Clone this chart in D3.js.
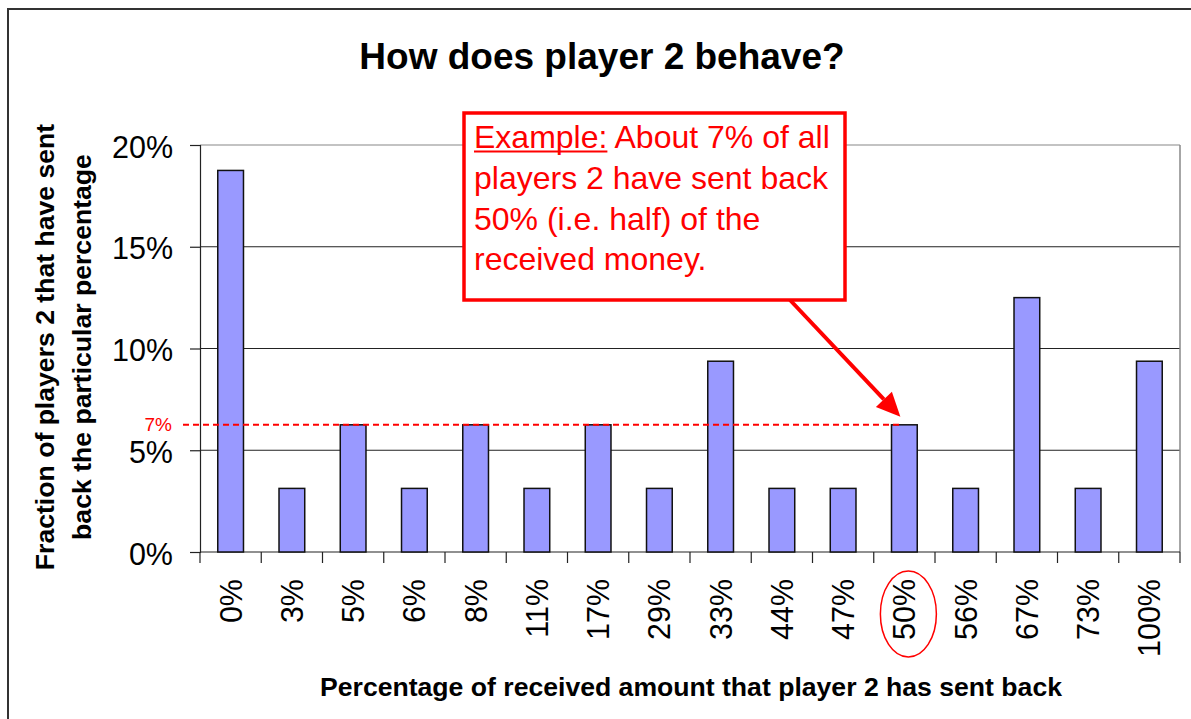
<!DOCTYPE html>
<html><head><meta charset="utf-8">
<script src="https://cdn.jsdelivr.net/npm/d3@7"></script>
<style>body{margin:0;background:#fff} svg{display:block} text{font-family:"Liberation Sans",Arial,Helvetica,sans-serif}</style>
</head><body><svg id="c" width="1191" height="719"></svg>
<script>
const categories = ["0%","3%","5%","6%","8%","11%","17%","29%","33%","44%","47%","50%","56%","67%","73%","100%"];
const fractions = [0.1875,0.03125,0.0625,0.03125,0.0625,0.03125,0.0625,0.03125,0.09375,0.03125,0.03125,0.0625,0.03125,0.125,0.03125,0.09375];
const yTicks = [0,0.05,0.10,0.15,0.20];
const highlightCategory = "50%";
const highlightLabel = "7%";
const titleText = "How does player 2 behave?";
const xTitleText = "Percentage of received amount that player 2 has sent back";
const yTitleLines = ["Fraction of players 2 that have sent","back the particular percentage"];
const noteLead = "Example:";
const noteLines = [" About 7% of all","players 2 have sent back","50% (i.e. half) of the","received money."];

const svg = d3.select("#c");
const W = 1191, H = 719;
const plot = {left:200, right:1180, top:145, bottom:552};

// outer frame
svg.append("path").attr("d",`M8,${H} L8,9 L${W},9`).attr("fill","none").attr("stroke","#333").attr("stroke-width",2);

const x = d3.scaleBand().domain(categories).range([plot.left, plot.right]).padding(0);
const y = d3.scaleLinear().domain([0,0.2]).range([plot.bottom, plot.top]);
const barW = x.bandwidth()*0.42;

// gridlines
svg.append("g").selectAll("line").data(yTicks.filter(d=>d>0)).join("line")
  .attr("x1",plot.left).attr("x2",plot.right)
  .attr("y1",d=>y(d)).attr("y2",d=>y(d))
  .attr("stroke",d=>d===0.2?"#888":"#222").attr("stroke-width",1.2);
// right border of plot
svg.append("line").attr("x1",plot.right).attr("x2",plot.right).attr("y1",plot.top).attr("y2",plot.bottom)
  .attr("stroke","#888").attr("stroke-width",1.5);

// y axis
const yAxis = svg.append("g").attr("transform",`translate(${plot.left},0)`)
  .call(d3.axisLeft(y).tickValues(yTicks).tickFormat(d3.format(".0%")).tickSize(10).tickPadding(17));
yAxis.select(".domain").attr("stroke","#222").attr("stroke-width",1.2);
yAxis.selectAll(".tick line").attr("stroke","#222").attr("stroke-width",1.2);
yAxis.selectAll(".tick text").attr("font-size",30.5).attr("fill","#000").attr("dy","0.4em")
  .style("font-family",'"Liberation Sans",Arial,sans-serif');

// x axis (ticks at category boundaries)
const boundaries = categories.map(c=>x(c)).concat([plot.right]);
svg.append("line").attr("x1",plot.left).attr("x2",plot.right).attr("y1",plot.bottom).attr("y2",plot.bottom)
  .attr("stroke","#222").attr("stroke-width",1.2);
svg.append("g").selectAll("line").data(boundaries).join("line")
  .attr("x1",d=>d).attr("x2",d=>d).attr("y1",plot.bottom).attr("y2",plot.bottom+11)
  .attr("stroke","#222").attr("stroke-width",1.2);
svg.append("g").selectAll("text").data(categories).join("text")
  .attr("transform",c=>`translate(${x(c)+x.bandwidth()/2},${plot.bottom+27}) rotate(-90)`)
  .attr("text-anchor","end").attr("dy","0.36em").attr("font-size",30.5).attr("fill","#000").text(c=>c);

// bars
svg.append("g").selectAll("rect").data(categories.map((c,i)=>({c,v:fractions[i]}))).join("rect")
  .attr("x",d=>x(d.c)+(x.bandwidth()-barW)/2).attr("width",barW)
  .attr("y",d=>y(d.v)).attr("height",d=>y(0)-y(d.v))
  .attr("fill","#9999FF").attr("stroke","#111").attr("stroke-width",1.5);

// highlight reference line
const hv = fractions[categories.indexOf(highlightCategory)];
const hx = x(highlightCategory)+x.bandwidth()/2;
svg.append("line").attr("x1",183).attr("x2",hx-4).attr("y1",y(hv)).attr("y2",y(hv))
  .attr("stroke","#f00").attr("stroke-width",2).attr("stroke-dasharray","6,4");
svg.append("text").attr("x",172).attr("y",y(hv)+6).attr("text-anchor","end").attr("font-size",19)
  .attr("fill","#f00").text(highlightLabel);

// ellipse around highlighted label
svg.append("ellipse").attr("cx",hx+4).attr("cy",plot.bottom+62).attr("rx",28).attr("ry",43)
  .attr("fill","none").attr("stroke","#f00").attr("stroke-width",1.5);

// annotation box
const box = {x:464, y:113, w:381, h:187};
// arrow
const tip = [hx-4, y(hv)-8];
const start = [790, box.y+box.h];
const dx = tip[0]-start[0], dy = tip[1]-start[1], L = Math.hypot(dx,dy);
const ux = dx/L, uy = dy/L, headL = 24, headW = 11;
const base = [tip[0]-ux*headL, tip[1]-uy*headL];
svg.append("line").attr("x1",start[0]).attr("y1",start[1]).attr("x2",base[0]).attr("y2",base[1])
  .attr("stroke","#f00").attr("stroke-width",4);
svg.append("path").attr("d",`M${tip[0]},${tip[1]} L${base[0]-uy*headW},${base[1]+ux*headW} L${base[0]+uy*headW},${base[1]-ux*headW} Z`)
  .attr("fill","#f00");
svg.append("rect").attr("x",box.x).attr("y",box.y).attr("width",box.w).attr("height",box.h)
  .attr("fill","#fff").attr("stroke","#f00").attr("stroke-width",3.5);
const noteFont = 32, lineH = 40.8, tx = 474, ty0 = 148;
const t1 = svg.append("text").attr("x",tx).attr("y",ty0).attr("font-size",noteFont).attr("fill","#f00");
const lead = t1.append("tspan").text(noteLead);
t1.append("tspan").text(noteLines[0]);
const leadW = lead.node().getComputedTextLength();
svg.append("line").attr("x1",tx).attr("x2",tx+leadW).attr("y1",ty0+3.5).attr("y2",ty0+3.5)
  .attr("stroke","#f00").attr("stroke-width",2);
noteLines.slice(1).forEach((l,i)=>{
  svg.append("text").attr("x",tx).attr("y",ty0+lineH*(i+1)).attr("font-size",noteFont).attr("fill","#f00").text(l);
});

// titles
svg.append("text").attr("x",602).attr("y",69).attr("text-anchor","middle").attr("font-size",37)
  .attr("font-weight","bold").text(titleText);
svg.append("text").attr("x",691).attr("y",696).attr("text-anchor","middle").attr("font-size",26.6)
  .attr("font-weight","bold").text(xTitleText);
yTitleLines.forEach((l,i)=>{
  svg.append("text").attr("transform",`translate(${54+i*37},${347}) rotate(-90)`)
    .attr("text-anchor","middle").attr("font-size",26.6).attr("font-weight","bold").text(l);
});
</script></body></html>
